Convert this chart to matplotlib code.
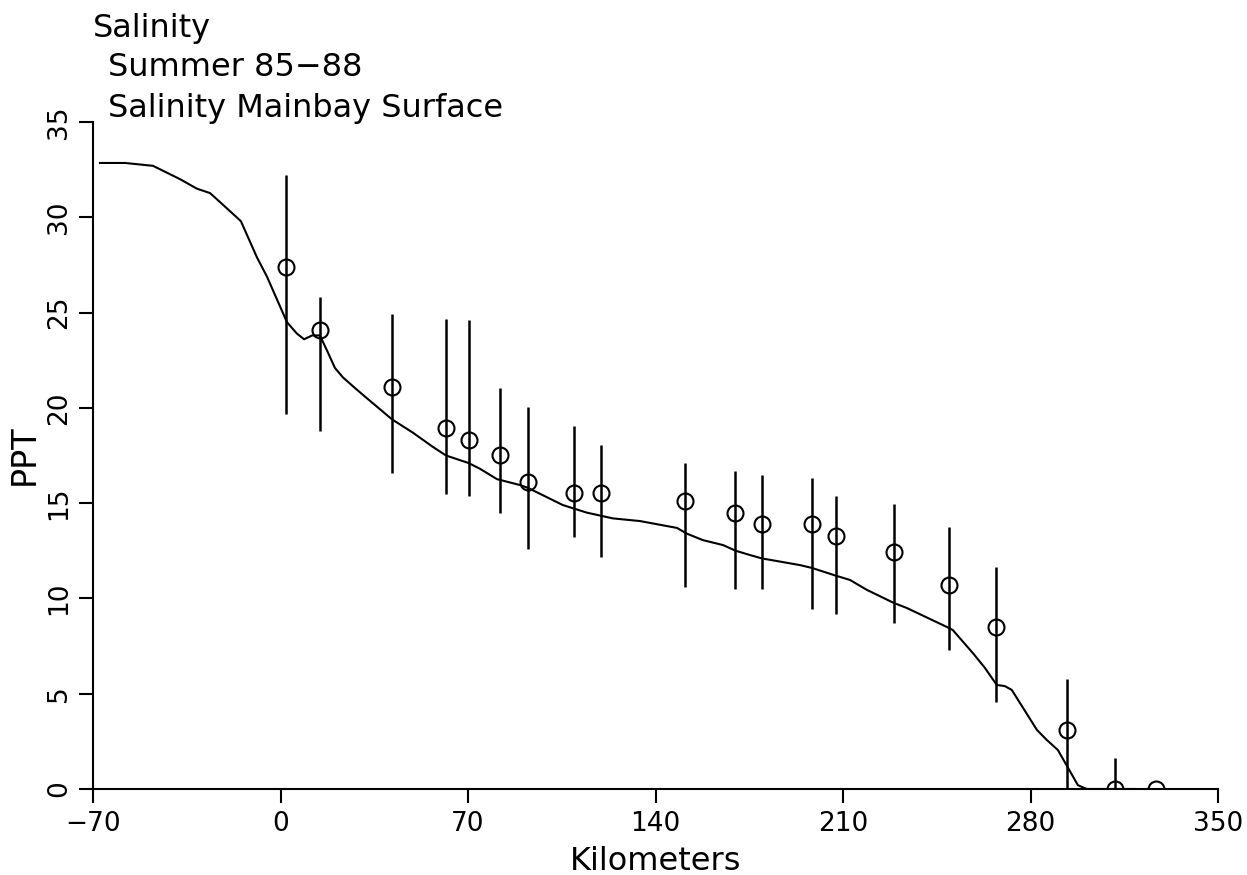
import matplotlib
matplotlib.use("Agg")
import matplotlib.pyplot as plt
import numpy as np

# Observed station data (km, PPT) with lower/upper error bar ends
obs_km = [2.0, 14.7, 41.6, 61.8, 70.3, 81.9, 92.4, 109.5, 119.6, 151.0,
          169.8, 179.7, 198.4, 207.2, 229.0, 249.5, 267.0, 293.6, 311.5, 326.8]
obs_ppt = [27.4, 24.1, 21.1, 18.95, 18.3, 17.55, 16.1, 15.55, 15.55, 15.1,
           14.5, 13.9, 13.9, 13.27, 12.43, 10.7, 8.5, 3.1, 0.0, 0.0]
obs_low = [19.7, 18.8, 16.6, 15.48, 15.37, 14.5, 12.6, 13.2, 12.2, 10.6,
           10.5, 10.5, 9.45, 9.2, 8.7, 7.3, 4.56, 0.0, 0.0, 0.0]
obs_high = [32.2, 25.8, 24.9, 24.66, 24.6, 21.04, 20.04, 19.05, 18.05, 17.1,
            16.7, 16.5, 16.3, 15.4, 14.95, 13.75, 11.65, 5.77, 1.63, 0.0]

# Model curve
model_km = [-67.4, -58.0, -47.6, -37.5, -31.2, -26.3, -22.6, -14.8, -8.8, -5.1,
            2.4, 6.1, 8.8, 11.8, 14.7, 17.3, 20.3, 23.3, 27.8, 32.3,
            41.6, 49.4, 56.9, 61.8, 70.3, 74.5, 80.8, 89.4, 92.4, 105.4,
            114.4, 124.1, 134.2, 148.0, 151.7, 157.7, 165.2, 170.0, 175.2, 179.7,
            193.9, 198.4, 207.2, 212.6, 218.9, 229.0, 233.8, 248.8, 251.0, 258.5,
            263.0, 267.4, 270.4, 273.0, 282.4, 286.1, 290.2, 297.7, 301.0, 319.3]
model_ppt = [32.85, 32.85, 32.7, 32.0, 31.5, 31.27, 30.8, 29.8, 27.9, 26.9,
             24.5, 23.9, 23.6, 23.8, 23.8, 23.03, 22.1, 21.6, 21.04, 20.5,
             19.4, 18.7, 17.95, 17.5, 17.1, 16.8, 16.26, 15.95, 15.8, 14.9,
             14.5, 14.2, 14.06, 13.7, 13.4, 13.06, 12.8, 12.5, 12.28, 12.1,
             11.75, 11.6, 11.2, 10.97, 10.45, 9.76, 9.5, 8.5, 8.34, 7.13,
             6.35, 5.46, 5.4, 5.2, 3.1, 2.57, 2.05, 0.2, 0.0, 0.0]

x_ticks = [-70, 0, 70, 140, 210, 280, 350]
y_ticks = [0, 5, 10, 15, 20, 25, 30, 35]

plt.rcParams['font.family'] = ['DejaVu Sans']

fig = plt.figure(figsize=(12.47, 8.75), dpi=100)
ax = fig.add_axes([93/1247, 86/875, 1125/1247, 667/875])

ax.plot(model_km, model_ppt, color='black', lw=1.5, solid_joinstyle='round')
obs_ppt_a = np.array(obs_ppt)
yerr = [obs_ppt_a - np.array(obs_low), np.array(obs_high) - obs_ppt_a]
ax.errorbar(obs_km, obs_ppt, yerr=yerr, fmt='o', mfc='none', mec='black',
            mew=1.5, ms=11.5, ecolor='black', elinewidth=1.8, capsize=0)

ax.set_xlim(-70, 350)
ax.set_ylim(0, 35)
ax.set_xticks(x_ticks)
ax.set_yticks(y_ticks)
ax.set_xticklabels([str(v) if v >= 0 else '\u2212' + str(-v) for v in x_ticks], fontsize=19)
ax.set_yticklabels([str(v) for v in y_ticks], fontsize=19, rotation=90, va='center')
ax.tick_params(axis='x', direction='out', length=10, width=1.5, pad=6)
ax.tick_params(axis='y', direction='out', length=10, width=1.5, pad=5)
for s in ['top', 'right']:
    ax.spines[s].set_visible(False)
for s in ['left', 'bottom']:
    ax.spines[s].set_linewidth(1.5)

ax.set_xlabel('Kilometers', fontsize=23, va='baseline')
ax.xaxis.set_label_coords(0.5, (789 - 870) / 667)
ax.set_ylabel('PPT', fontsize=24, va='center')
ax.yaxis.set_label_coords((24 - 93) / 1125, (789 - 455) / 667)

fig.text(93/1247, 1 - 37/875, 'Salinity', fontsize=23, va='baseline', ha='left')
fig.text(108/1247, 1 - 76/875, 'Summer 85\u221288', fontsize=23, va='baseline', ha='left')
fig.text(108/1247, 1 - 117/875, 'Salinity Mainbay Surface', fontsize=23, va='baseline', ha='left')

fig.savefig('out.png', dpi=100)
